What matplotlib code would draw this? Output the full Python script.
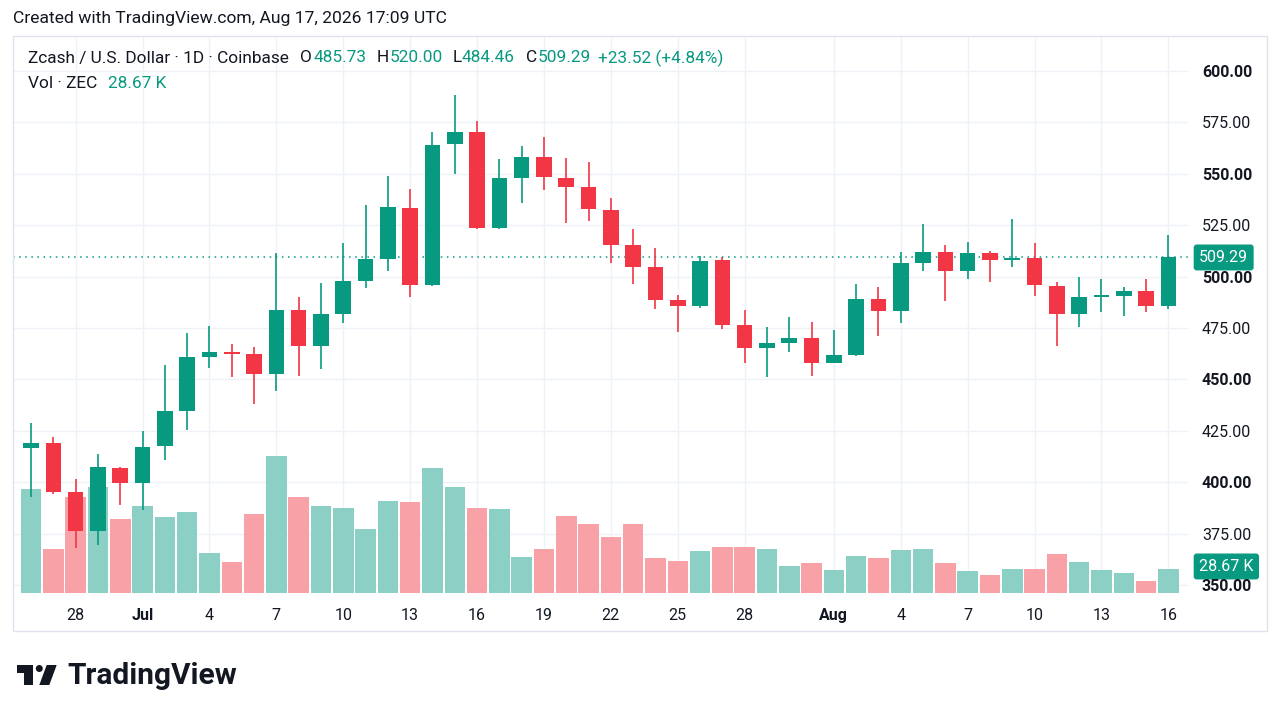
import matplotlib
matplotlib.use("Agg")
import matplotlib.pyplot as plt
from matplotlib.patches import Rectangle, Polygon, Circle
import matplotlib.transforms as mtransforms
import pandas as pd
import numpy as np

plt.rcParams['font.family'] = ['Roboto', 'DejaVu Sans']

# === Data ===
dates = pd.date_range('2026-06-26', '2026-08-16', freq='D')

opens = [416.6, 419.1, 395.2, 376.3, 406.9, 399.6, 417.6, 434.6, 460.9, 463.3,
         462.4, 452.6, 483.7, 466.2, 481.8, 497.9, 508.6, 533.4, 495.9, 564.5,
         570.3, 523.6, 548.0, 558.2, 548.0, 543.6, 532.4, 515.4, 504.7, 488.6,
         485.7, 508.1, 476.5, 465.3, 467.7, 470.1, 458.0, 461.9, 489.1, 483.3,
         506.6, 512.0, 502.7, 511.5, 508.1, 509.0, 495.5, 481.8, 490.1, 490.6,
         493.0, 485.73]
highs = [428.8, 422.0, 401.5, 413.7, 407.4, 424.9, 457.0, 472.6, 476.0, 467.2,
         465.8, 511.5, 490.1, 496.9, 516.3, 534.8, 548.9, 542.6, 570.3, 588.3,
         575.7, 557.2, 563.5, 567.9, 557.7, 555.7, 538.2, 523.1, 513.9, 491.0,
         510.0, 509.5, 483.7, 475.5, 480.3, 477.9, 474.0, 496.4, 494.9, 512.0,
         525.6, 515.4, 516.8, 512.4, 528.0, 516.3, 497.4, 499.8, 498.8, 494.9,
         498.8, 520.00]
lows = [392.8, 394.3, 368.0, 369.5, 388.9, 386.5, 410.8, 425.4, 455.5, 451.2,
        438.0, 444.4, 451.6, 455.1, 477.4, 494.4, 502.7, 490.1, 495.5, 549.9,
        523.0, 523.3, 535.8, 542.1, 526.1, 527.0, 506.6, 496.4, 484.2, 473.0,
        484.7, 474.5, 458.0, 451.2, 463.3, 451.6, 458.0, 461.5, 471.1, 477.4,
        502.7, 488.1, 498.8, 497.4, 504.7, 490.6, 466.2, 475.5, 482.8, 480.8,
        482.8, 484.46]
closes = [419.1, 395.2, 376.3, 407.4, 399.6, 417.1, 434.6, 460.9, 463.3, 462.5,
          452.6, 483.7, 466.2, 481.8, 497.9, 508.6, 533.9, 495.9, 564.0, 570.3,
          523.6, 548.0, 558.2, 548.4, 543.6, 532.9, 515.4, 504.7, 488.6, 485.7,
          507.6, 476.5, 465.3, 467.7, 470.1, 458.0, 461.9, 489.1, 483.3, 506.6,
          512.0, 502.7, 511.5, 508.1, 509.0, 495.9, 481.8, 490.1, 491.0, 493.0,
          485.77, 509.29]
# volume in thousands of ZEC
volumes = [121.9, 51.7, 112.8, 124.6, 87.0, 101.9, 88.9, 95.5, 47.0, 36.4,
           92.5, 160.6, 113.2, 101.9, 99.5, 74.8, 108.1, 107.3, 146.9, 124.6,
           100.2, 98.3, 42.3, 51.3, 90.5, 81.4, 65.4, 81.4, 41.1, 37.2,
           49.0, 54.4, 54.4, 51.3, 31.7, 35.3, 27.4, 43.4, 40.8, 50.2,
           51.3, 35.3, 25.9, 21.6, 27.8, 27.8, 45.5, 36.9, 26.7, 23.1,
           13.7, 28.67]

tick_dates = ['2026-06-28', '2026-07-01', '2026-07-04', '2026-07-07', '2026-07-10',
              '2026-07-13', '2026-07-16', '2026-07-19', '2026-07-22', '2026-07-25',
              '2026-07-28', '2026-08-01', '2026-08-04', '2026-08-07', '2026-08-10',
              '2026-08-13', '2026-08-16']
price_ticks = [350, 375, 400, 425, 450, 475, 500, 525, 550, 575, 600]

# === Styling ===
UP = '#089981'
DOWN = '#F23645'
UP_VOL = '#8ccfc4'
DOWN_VOL = '#f8a1a6'
GRID = '#eef1f6'
TEXT = '#131722'

W, H = 1280, 720


def fx(x):
    return x / W


def fy(y):
    return 1 - y / H


fig = plt.figure(figsize=(12.8, 7.2), dpi=100)
fig.patch.set_facecolor('white')

# pane: x 13..1188, y 36..593 (pixels); grid layer, volume layer, candle layer
rect = [fx(13), fy(593), fx(1188 - 13), (593 - 36) / H]
axg = fig.add_axes(rect)
ax2 = fig.add_axes(rect)
ax = fig.add_axes(rect)
ax2.patch.set_visible(False)
ax.patch.set_visible(False)

XLIM = (-0.81, 51.88)
YLIM = (346.1, 617.0)

x = np.arange(len(dates))
o = np.array(opens)
c = np.array(closes)
up = c >= o

tick_idx = [dates.get_loc(pd.Timestamp(d)) for d in tick_dates]

# grid layer
axg.set_xlim(*XLIM)
axg.set_ylim(*YLIM)
axg.set_xticks(tick_idx)
axg.set_yticks(price_ticks)
axg.grid(True, color=GRID, linewidth=1)
axg.tick_params(length=0, labelbottom=False, labelleft=False)
for s in axg.spines.values():
    s.set_visible(False)

# volume overlay
ax2.bar(x, volumes, width=0.92, color=[UP_VOL if u else DOWN_VOL for u in up],
        linewidth=0)
ax2.set_ylim(0, 654.5)
ax2.set_xlim(*XLIM)
ax2.axis('off')

# candles
colors = [UP if u else DOWN for u in up]
ax.vlines(x, lows, highs, colors=colors, linewidth=1.2, zorder=3)
body_h = np.maximum(np.abs(c - o), 0.8)
ax.bar(x, body_h, bottom=np.minimum(o, c), width=0.7, color=colors,
       linewidth=0, zorder=4)
ax.set_xlim(*XLIM)
ax.set_ylim(*YLIM)

# last price line
last = closes[-1]
ax.axhline(last, color=UP, linestyle=(0, (1, 3)), linewidth=1.1, zorder=2)

# ticks
tick_lbl = []
for d in tick_dates:
    t = pd.Timestamp(d)
    tick_lbl.append(t.strftime('%b') if t.day == 1 else str(t.day))
ax.set_xticks(tick_idx)
ax.set_xticklabels(tick_lbl, fontsize=11.5, color=TEXT)
for lab, d in zip(ax.get_xticklabels(), tick_dates):
    if pd.Timestamp(d).day == 1:
        lab.set_fontweight('bold')
ax.tick_params(axis='x', length=0, pad=11)

ax.yaxis.tick_right()
ax.set_yticks(price_ticks)
ax.set_yticklabels([f'{p:.2f}' for p in price_ticks], fontsize=11.5, color=TEXT)
for k, lab in enumerate(ax.get_yticklabels()):
    if k % 2 == 0:
        lab.set_fontweight('bold')
ax.tick_params(axis='y', length=0, pad=10)
for s in ax.spines.values():
    s.set_visible(False)

# price label on the scale
trans = mtransforms.blended_transform_factory(ax.transAxes, ax.transData)
ax.text(1.0095, last, f'{last:.2f}', transform=trans, ha='left', va='center',
        fontsize=11.5, color='white', zorder=6,
        bbox=dict(boxstyle='round,pad=0.3,rounding_size=0.15', fc=UP, ec=UP))
trans2 = mtransforms.blended_transform_factory(ax2.transAxes, ax2.transData)
ax2.text(1.0095, volumes[-1] + 2.5, f'{volumes[-1]:.2f} K', transform=trans2,
         ha='left', va='center', fontsize=11.5, color='white', zorder=6,
         bbox=dict(boxstyle='round,pad=0.3,rounding_size=0.15', fc=UP, ec=UP),
         clip_on=False)

# frame around chart
fig.add_artist(Rectangle((fx(13), fy(631)), fx(1267 - 13), (631 - 36) / H,
                         transform=fig.transFigure, fill=False,
                         edgecolor='#e0e3eb', linewidth=1))

# header
fig.text(fx(13), fy(19), 'Created with TradingView.com, Aug 17, 2026 17:09 UTC',
         fontsize=12.6, color=TEXT, va='center')

# legend lines
chg = closes[-1] - closes[-2]
pct = chg / closes[-2] * 100
legend_parts = [
    (28, 'Zcash / U.S. Dollar · 1D · Coinbase', TEXT),
    (300, 'O', TEXT), (314, f'{opens[-1]:.2f}', UP),
    (377, 'H', TEXT), (390, f'{highs[-1]:.2f}', UP),
    (453, 'L', TEXT), (462, f'{lows[-1]:.2f}', UP),
    (526, 'C', TEXT), (538, f'{closes[-1]:.2f}', UP),
    (598, f'+{chg:.2f} (+{pct:.2f}%)', UP),
]
for px, s, col in legend_parts:
    fig.text(fx(px), fy(58), s, fontsize=12.4, color=col, va='center')
fig.text(fx(28), fy(83), 'Vol · ZEC', fontsize=12.4, color=TEXT, va='center')
fig.text(fx(108), fy(83), f'{volumes[-1]:.2f} K', fontsize=12.4, color=UP, va='center')


# TradingView logo
def P(pts):
    return [(fx(a), fy(b)) for a, b in pts]


fig.add_artist(Polygon(P([(16.7, 665), (32.7, 665), (32.7, 685), (24, 685),
                          (24, 673.3), (16.7, 673.3)]),
                       closed=True, transform=fig.transFigure, fc=TEXT, ec='none'))
fig.add_artist(Polygon(P([(46.7, 665), (56.7, 665), (49.3, 685), (39.3, 685)]),
                       closed=True, transform=fig.transFigure, fc=TEXT, ec='none'))
fig.add_artist(Circle((39.3, H - 668.5), 3.5, transform=mtransforms.IdentityTransform(),
                      fc=TEXT, ec='none'))
fig.text(fx(67), fy(676), 'TradingView', fontsize=21.5, fontweight='bold',
         color=TEXT, va='center')

fig.savefig('out.png', dpi=100)
